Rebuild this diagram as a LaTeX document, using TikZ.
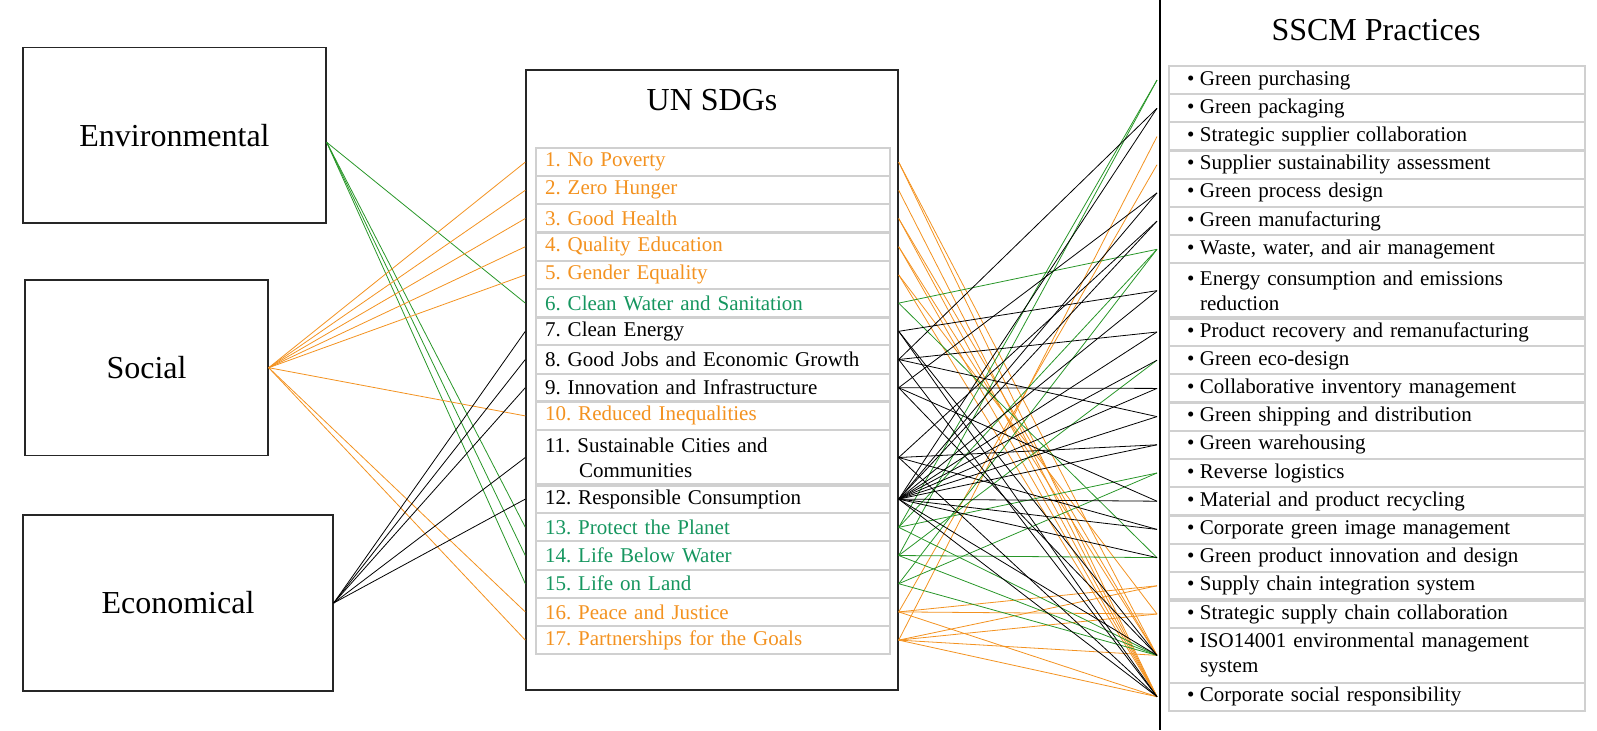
\documentclass[tikz,border=0pt]{standalone}
\usepackage{fontspec}
\setmainfont{Liberation Serif}
\usepackage{xcolor}
\usetikzlibrary{positioning}

\definecolor{sdgorange}{RGB}{243,146,32}
\definecolor{sdggreen}{RGB}{22,150,95}
\definecolor{linkgreen}{RGB}{40,150,40}
\definecolor{rowgray}{RGB}{208,208,208}
\newcommand{\sscmbullet}{\makebox[6.5pt][l]{\textbullet}}

\begin{document}
\frenchspacing
\begin{tikzpicture}[
    x=0.5pt, y=-0.5pt,
    pillar/.style={rectangle, draw=black!85, line width=0.7pt, inner sep=0pt, font=\fontsize{16}{19}\selectfont},
    goal/.style={rectangle, draw=rowgray, line width=1pt, outer sep=0pt, minimum height=14.1pt, inner xsep=4.5pt, inner ysep=0pt, text width=168pt, align=left, font=\fontsize{10.5}{12.6}\selectfont},
    practice/.style={goal, text width=190pt, inner xsep=9pt},
    title/.style={font=\fontsize{16}{19}\selectfont},
    link/.style={line width=0.4pt},
]
\useasboundingbox (0,0) rectangle (1597,730);

% Pillars
\node[pillar, minimum width=151.5pt, minimum height=87.7pt] (env) at (174.5,135.3) {Environmental};
\node[pillar, minimum width=121.5pt, minimum height=87.7pt] (soc) at (146.5,367.7) {Social};
\node[pillar, minimum width=155pt, minimum height=88pt] (eco) at (178,603) {Economical};

% UN SDGs
\node[pillar, minimum width=186pt, minimum height=310pt] (sdg) at (712,380) {};
\node[title] (sdgtitle) at (712,100) {UN SDGs};
\node[goal, text=sdgorange, anchor=north west] (s1) at (536,148) {1. No Poverty};
\node[goal, text=sdgorange, below=0pt of s1] (s2) {2. Zero Hunger};
\node[goal, text=sdgorange, below=0pt of s2] (s3) {3. Good Health};
\node[goal, text=sdgorange, below=0pt of s3] (s4) {4. Quality Education};
\node[goal, text=sdgorange, below=0pt of s4] (s5) {5. Gender Equality};
\node[goal, text=sdggreen, below=0pt of s5] (s6) {6. Clean Water and Sanitation};
\node[goal, below=0pt of s6] (s7) {7. Clean Energy};
\node[goal, below=0pt of s7] (s8) {8. Good Jobs and Economic Growth};
\node[goal, below=0pt of s8] (s9) {9. Innovation and Infrastructure};
\node[goal, text=sdgorange, below=0pt of s9] (s10) {10. Reduced Inequalities};
\node[goal, minimum height=27.5pt, below=0pt of s10] (s11) {11. Sustainable Cities and\\\hspace*{17pt}Communities};
\node[goal, below=0pt of s11] (s12) {12. Responsible Consumption};
\node[goal, text=sdggreen, below=0pt of s12] (s13) {13. Protect the Planet};
\node[goal, text=sdggreen, below=0pt of s13] (s14) {14. Life Below Water};
\node[goal, text=sdggreen, below=0pt of s14] (s15) {15. Life on Land};
\node[goal, text=sdgorange, below=0pt of s15] (s16) {16. Peace and Justice};
\node[goal, text=sdgorange, below=0pt of s16] (s17) {17. Partnerships for the Goals};

% SSCM practices
\coordinate (railtop) at (1160,0);
\coordinate (railbot) at (1160,730);
\draw[line width=0.7pt] (railtop) -- (railbot);
\node[title] (sscmtitle) at (1376,30) {SSCM Practices};
\node[practice, anchor=north west] (p1) at (1169,66) {\sscmbullet Green purchasing};
\node[practice, below=0pt of p1] (p2) {\sscmbullet Green packaging};
\node[practice, below=0pt of p2] (p3) {\sscmbullet Strategic supplier collaboration};
\node[practice, below=0pt of p3] (p4) {\sscmbullet Supplier sustainability assessment};
\node[practice, below=0pt of p4] (p5) {\sscmbullet Green process design};
\node[practice, below=0pt of p5] (p6) {\sscmbullet Green manufacturing};
\node[practice, below=0pt of p6] (p7) {\sscmbullet Waste, water, and air management};
\node[practice, minimum height=27.25pt, below=0pt of p7] (p8) {\sscmbullet Energy consumption and emissions\\\hspace*{6.5pt}reduction};
\node[practice, below=0pt of p8] (p9) {\sscmbullet Product recovery and remanufacturing};
\node[practice, below=0pt of p9] (p10) {\sscmbullet Green eco-design};
\node[practice, below=0pt of p10] (p11) {\sscmbullet Collaborative inventory management};
\node[practice, below=0pt of p11] (p12) {\sscmbullet Green shipping and distribution};
\node[practice, below=0pt of p12] (p13) {\sscmbullet Green warehousing};
\node[practice, below=0pt of p13] (p14) {\sscmbullet Reverse logistics};
\node[practice, below=0pt of p14] (p15) {\sscmbullet Material and product recycling};
\node[practice, below=0pt of p15] (p16) {\sscmbullet Corporate green image management};
\node[practice, below=0pt of p16] (p17) {\sscmbullet Green product innovation and design};
\node[practice, below=0pt of p17] (p18) {\sscmbullet Supply chain integration system};
\node[practice, below=0pt of p18] (p19) {\sscmbullet Strategic supply chain collaboration};
\node[practice, minimum height=27.25pt, below=0pt of p19] (p20) {\sscmbullet ISO14001 environmental management\\\hspace*{6.5pt}system};
\node[practice, below=0pt of p20] (p21) {\sscmbullet Corporate social responsibility};

% Heavier row separators
\foreach \r in {s3,s6,s9,s11,p3,p8,p11,p15,p18}
  \draw[rowgray, line width=1.6pt] (\r.south west) -- (\r.south east);

% Anchors on the box edges
\foreach \i in {1,...,17} {
  \coordinate (sL\i) at (sdg.west |- s\i);
  \coordinate (sR\i) at (sdg.east |- s\i);
}
\coordinate (railin) at (1157,0);
\foreach \j in {1,...,21}
  \coordinate (pL\j) at (railin |- p\j);
\coordinate (envout) at ([yshift=-3.5pt]env.east);

% Pillars to goals
\foreach \i in {6,13,14,15} \draw[link, linkgreen] (envout) -- (sL\i);
\foreach \i in {1,2,3,4,5,10,16,17} \draw[link, sdgorange] (soc.east) -- (sL\i);
\foreach \i in {7,8,9,11,12} \draw[link] (eco.east) -- (sL\i);

% Goals to practices
\foreach \s/\p in {1/21,1/20,2/21,3/21,3/20,4/21,4/20,5/21,5/19,16/4,16/18,16/19,16/21,17/3,17/18,17/19,17/20,17/21}
  \draw[link, sdgorange] (sR\s) -- (pL\p);
\foreach \s/\p in {6/7,6/17,13/1,13/7,13/14,13/20,14/1,14/10,14/17,14/20,15/7,15/14,15/20}
  \draw[link, linkgreen] (sR\s) -- (pL\p);
\foreach \s/\p in {7/8,7/20,7/21,8/2,8/9,8/12,8/21,9/5,9/11,9/15,9/20,11/6,11/13,11/16,11/21,12/2,12/5,12/6,12/8,12/9,12/10,12/11,12/12,12/13,12/15,12/16,12/17,12/20,12/21}
  \draw[link] (sR\s) -- (pL\p);

\end{tikzpicture}
\end{document}
